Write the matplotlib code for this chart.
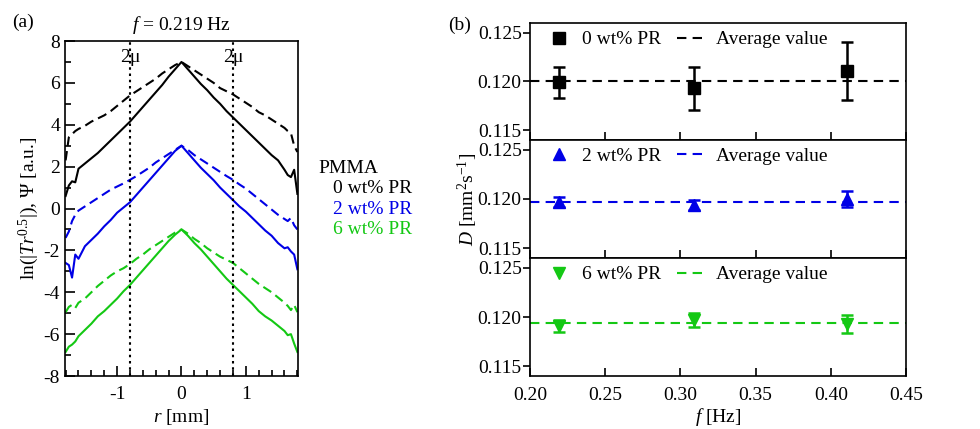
import matplotlib
matplotlib.use("Agg")
import matplotlib.pyplot as plt
from matplotlib.lines import Line2D

plt.rcParams['font.family'] = ['Liberation Serif', 'DejaVu Serif']
plt.rcParams['mathtext.fontset'] = 'custom'
plt.rcParams['mathtext.rm'] = 'Liberation Serif'
plt.rcParams['mathtext.it'] = 'Liberation Serif:italic'
plt.rcParams['font.size'] = 14
plt.rcParams['axes.unicode_minus'] = False

# ---------------- panel (a) data ----------------
r_mm = [-1.8, -1.75, -1.7, -1.65, -1.6, -1.5, -1.4, -1.3, -1.2, -1.1, -1.0, -0.9, -0.8,
        -0.7, -0.6, -0.5, -0.4, -0.3, -0.2, -0.1, 0.0, 0.1, 0.2, 0.3, 0.4, 0.5, 0.6,
        0.7, 0.8, 0.9, 1.0, 1.1, 1.2, 1.3, 1.4, 1.5, 1.6, 1.65, 1.7, 1.75, 1.8]

ln_T_0 = [0.6, 1.1, 1.3, 1.25, 1.9, 2.15, 2.4, 2.65, 2.95, 3.25, 3.55, 3.85, 4.15,
          4.5, 4.85, 5.2, 5.55, 5.9, 6.3, 6.65, 7.0, 6.65, 6.3, 5.95, 5.65, 5.3, 5.0,
          4.65, 4.35, 4.05, 3.75, 3.45, 3.15, 2.85, 2.55, 2.3, 1.85, 1.6, 1.5, 1.85, 0.7]
psi_0 = [2.3, 3.4, 3.55, 3.7, 3.8, 3.95, 4.15, 4.3, 4.45, 4.65, 4.9, 5.15, 5.4,
         5.6, 5.8, 6.0, 6.2, 6.45, 6.65, 6.85, 7.0, 6.8, 6.6, 6.4, 6.2, 6.0, 5.75,
         5.6, 5.45, 5.25, 5.05, 4.85, 4.6, 4.45, 4.25, 4.05, 3.85, 3.7, 3.6, 3.0, 2.7]
ln_T_2 = [-2.6, -2.7, -3.3, -2.2, -2.4, -1.8, -1.5, -1.2, -0.85, -0.55, -0.2, 0.05, 0.3,
          0.65, 1.0, 1.35, 1.7, 2.05, 2.4, 2.75, 3.0, 2.65, 2.3, 1.95, 1.65, 1.35, 1.0,
          0.7, 0.4, 0.1, -0.15, -0.45, -0.75, -1.05, -1.3, -1.65, -1.9, -1.85, -2.05, -2.2, -2.9]
psi_2 = [-1.4, -1.1, -0.6, -0.3, -0.1, 0.1, 0.3, 0.5, 0.7, 0.9, 1.05, 1.2, 1.37,
         1.55, 1.75, 1.95, 2.2, 2.4, 2.6, 2.8, 3.0, 2.8, 2.55, 2.35, 2.15, 1.95, 1.75,
         1.55, 1.37, 1.15, 0.95, 0.7, 0.45, 0.2, -0.05, -0.3, -0.5, -0.6, -0.45, -0.8, -1.0]
ln_T_6 = [-6.85, -6.6, -6.5, -6.35, -6.1, -5.8, -5.5, -5.15, -4.9, -4.6, -4.3, -3.95, -3.65,
          -3.3, -2.95, -2.6, -2.25, -1.9, -1.55, -1.25, -1.0, -1.3, -1.65, -1.95, -2.3, -2.65, -3.0,
          -3.35, -3.65, -3.95, -4.25, -4.55, -4.9, -5.15, -5.35, -5.6, -5.85, -6.05, -6.0, -6.45, -6.85]
psi_6 = [-4.95, -4.7, -4.6, -4.75, -4.5, -4.3, -4.0, -3.7, -3.45, -3.2, -3.0, -2.85, -2.65,
         -2.4, -2.2, -1.95, -1.75, -1.55, -1.35, -1.15, -1.0, -1.2, -1.45, -1.65, -1.9, -2.1, -2.3,
         -2.45, -2.6, -2.85, -3.1, -3.35, -3.6, -3.8, -4.0, -4.25, -4.5, -4.65, -4.85, -4.6, -4.95]
mu2_positions = [-0.8, 0.8]

# ---------------- panel (b) data ----------------
freq_hz = [0.219, 0.309, 0.411]
D_0 = [0.1199, 0.1193, 0.1211]
D_0_err = [0.0016, 0.0022, 0.0030]
D_2 = [0.1197, 0.1194, 0.1200]
D_2_err = [0.0005, 0.0005, 0.0008]
D_6 = [0.1191, 0.1197, 0.1193]
D_6_err = [0.0006, 0.0007, 0.0009]
D_avg = [0.1201, 0.1197, 0.1194]
labels_b = ["0 wt% PR", "2 wt% PR", "6 wt% PR"]
labels_a = ["0 wt% PR", "2 wt% PR", "6 wt% PR"]

BLACK = "#000000"
BLUE = "#0000e6"
GREEN = "#14c814"

fig = plt.figure(figsize=(9.8, 4.29), dpi=100)

# ---------------- panel (a) ----------------
axa = fig.add_axes([0.0663, 0.1235, 0.2378, 0.7809])
dash = (0, (4.5, 2.5))
for lnT, psi, c in [(ln_T_0, psi_0, BLACK), (ln_T_2, psi_2, BLUE), (ln_T_6, psi_6, GREEN)]:
    axa.plot(r_mm, lnT, color=c, lw=1.5)
    axa.plot(r_mm, psi, color=c, lw=1.5, linestyle=dash)
for xm in mu2_positions:
    axa.axvline(xm, color=BLACK, lw=1.5, linestyle=(0, (1.2, 1.8)))
    axa.text(xm, 7.2, "2μ", ha="center", va="center", fontsize=14)
axa.set_xlim(-1.81, 1.81)
axa.set_ylim(-8, 8)
axa.set_xticks([-1, 0, 1])
axa.set_xticks([v / 10 for v in range(-18, 19, 2)], minor=True)
axa.set_yticks(range(-8, 9, 2))
axa.set_yticks(range(-8, 9, 1), minor=True)
axa.tick_params(which="both", direction="in", top=False, right=False, labelsize=14, width=1.2)
axa.tick_params(axis="x", which="both", pad=7)
axa.tick_params(which="major", length=7)
axa.tick_params(which="minor", length=4)
axa.set_xlabel("$r$ [mm]", fontsize=14, labelpad=3)
axa.set_ylabel("ln(|$Tr^{0.5}$|), Ψ [a.u.]", fontsize=14, labelpad=2)
axa.set_title("$f$ = 0.219 Hz", fontsize=14, pad=8)
for s in axa.spines.values():
    s.set_linewidth(1.2)
fig.text(0.012, 0.949, "(a)", fontsize=14, ha="left", va="center")

fig.text(0.325, 0.608, "PMMA", fontsize=14, color=BLACK, ha="left", va="center")
for i, (lab, c) in enumerate(zip(labels_a, [BLACK, BLUE, GREEN])):
    fig.text(0.34, 0.56 - i * 0.048, lab, fontsize=14, color=c, ha="left", va="center")

# ---------------- panel (b) ----------------
bottoms = [0.6737, 0.3986, 0.1235]
heights = [0.2727, 0.2751, 0.2751]
series = [(D_0, D_0_err, BLACK, "s"), (D_2, D_2_err, BLUE, "^"), (D_6, D_6_err, GREEN, "v")]
axes_b = []
for k, ((D, Derr, c, m), b, h) in enumerate(zip(series, bottoms, heights)):
    ax = fig.add_axes([0.5408, b, 0.3837, h])
    ax.errorbar(freq_hz, D, yerr=Derr, fmt=m, color=c, ms=8, elinewidth=1.8,
                capsize=4, capthick=1.8, linestyle="none")
    ax.axhline(D_avg[k], color=c, lw=1.5, linestyle=(0, (4.5, 3)))
    ax.set_xlim(0.20, 0.45)
    ax.set_ylim(0.114, 0.126)
    ax.set_yticks([0.115, 0.120, 0.125])
    ax.set_yticklabels(["0.115", "0.120", "0.125"])
    ax.set_xticks([0.20, 0.25, 0.30, 0.35, 0.40, 0.45])
    ax.tick_params(axis="x", direction="in", length=6, width=1.2, labelsize=14, pad=8)
    ax.tick_params(axis="y", direction="out", length=5, width=1.2, labelsize=14, pad=1)
    if k < 2:
        ax.tick_params(axis="x", labelbottom=False)
    else:
        ax.set_xticklabels(["0.20", "0.25", "0.30", "0.35", "0.40", "0.45"])
        ax.set_xlabel("$f$ [Hz]", fontsize=14, labelpad=1)
    for s in ax.spines.values():
        s.set_linewidth(1.2)
    handles = [Line2D([], [], marker=m, color=c, linestyle="none", ms=8),
               Line2D([], [], color=c, lw=1.5, linestyle=(0, (4.5, 3)))]
    ax.legend(handles, [labels_b[k], "Average value"], ncol=2, loc="upper left",
              bbox_to_anchor=(0.0, 1.05), frameon=False, fontsize=14,
              handlelength=1.6, handletextpad=0.4, columnspacing=0.8, borderaxespad=0.3)
    axes_b.append(ax)

axes_b[1].set_ylabel("$D$ [mm$^2$s$^{-1}$]", fontsize=14, labelpad=-2)
fig.text(0.457, 0.94, "(b)", fontsize=14, ha="left", va="center")

fig.savefig("out.png", dpi=100)
